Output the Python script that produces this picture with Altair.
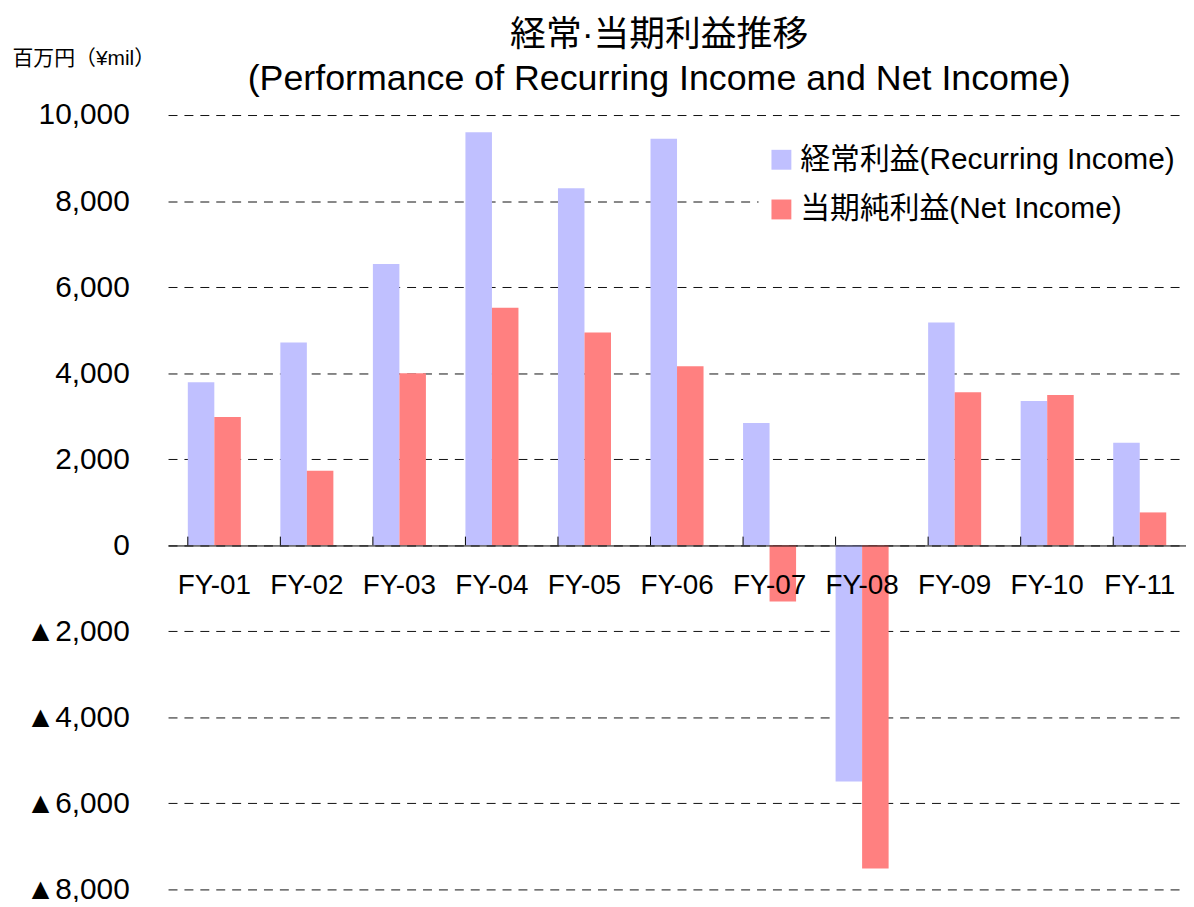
import altair as alt
import pandas as pd

# ---- data ----
years = ["FY-01", "FY-02", "FY-03", "FY-04", "FY-05", "FY-06",
         "FY-07", "FY-08", "FY-09", "FY-10", "FY-11"]
recurring = [3790, 4715, 6540, 9600, 8300, 9450, 2843, -5493, 5177, 3351, 2380]
net_income = [2981, 1733, 3998, 5523, 4946, 4160, -1310, -7511, 3559, 3490, 763]
series_names = ["経常利益(Recurring Income)", "当期純利益(Net Income)"]
series_colors = ["#c0c0ff", "#ff8080"]
y_tick_values = [-8000, -6000, -4000, -2000, 0, 2000, 4000, 6000, 8000, 10000]
title_lines = ["経常·当期利益推移", "(Performance of Recurring Income and Net Income)"]
y_unit_title = "百万円（¥mil）"

FONT = "Liberation Sans, Arial, Noto Sans CJK JP, DejaVu Sans"

rows = []
for i, yr in enumerate(years):
    rows.append({"year": yr, "series": series_names[0], "value": recurring[i]})
    rows.append({"year": yr, "series": series_names[1], "value": net_income[i]})
df = pd.DataFrame(rows)
tick_df = pd.DataFrame({"year": years})

x_scale = alt.Scale(domain=years, paddingInner=0.427, paddingOuter=0.2135)
y_scale = alt.Scale(domain=[-8000, 10000], nice=False, zero=False)

bars = alt.Chart(df).mark_bar().encode(
    x=alt.X("year:N", sort=years, scale=x_scale, title=None,
            axis=alt.Axis(orient="bottom", offset=-346, domain=True,
                          domainColor="black", domainWidth=1,
                          ticks=False, tickSize=0, labelAngle=0,
                          labelFontSize=28, labelFont=FONT, labelColor="black",
                          labelPadding=26, labelBaseline="top", grid=False,
                          zindex=1)),
    xOffset=alt.XOffset("series:N", sort=series_names,
                        scale=alt.Scale(domain=series_names, paddingInner=0, paddingOuter=0)),
    y=alt.Y("value:Q", scale=y_scale,
            axis=alt.Axis(values=y_tick_values, grid=True, gridDash=[9, 7],
                          gridColor="#111111", gridWidth=1, domain=False, ticks=False,
                          labelFontSize=30, labelFont=FONT, labelColor="black",
                          labelPadding=39,
                          labelExpr="datum.value < 0 ? '▲' + format(-datum.value, ',') : format(datum.value, ',')",
                          title=y_unit_title, titleAngle=0, titleFontSize=21,
                          titleFont=FONT, titleFontWeight="normal", titleColor="black",
                          titleAlign="left", titleBaseline="middle",
                          titleX=-157, titleY=-57)),
    color=alt.Color("series:N", sort=series_names,
                    scale=alt.Scale(domain=series_names, range=series_colors),
                    legend=alt.Legend(title=None, orient="none", legendX=594, legendY=22,
                                      symbolType="square", symbolSize=400,
                                      symbolStrokeWidth=0, symbolOpacity=1,
                                      labelFontSize=30, labelFont=FONT, labelColor="black",
                                      labelOffset=4, rowPadding=20, padding=8,
                                      fillColor="white", strokeColor="white",
                                      labelLimit=600)),
)

ticks = alt.Chart(tick_df).mark_rule(color="black", strokeWidth=1).encode(
    x=alt.X("year:N", sort=years, scale=x_scale, bandPosition=0),
    y=alt.datum(0),
    y2=alt.datum(200),
)

chart = alt.layer(bars, ticks).properties(
    width=1024,
    height=779,
    padding={"left": 161, "top": 105, "right": 0, "bottom": 10},
    autosize=alt.AutoSizeParams(type="none"),
    title=alt.Title(title_lines, fontSize=36, font=FONT, fontWeight="normal",
                    color="black", anchor="middle", dx=-18, dy=65, offset=14,
                    lineHeight=44),
).configure(background="white").configure_view(stroke=None)

chart.save("out.html", embed_options={"renderer": "svg", "actions": False})
